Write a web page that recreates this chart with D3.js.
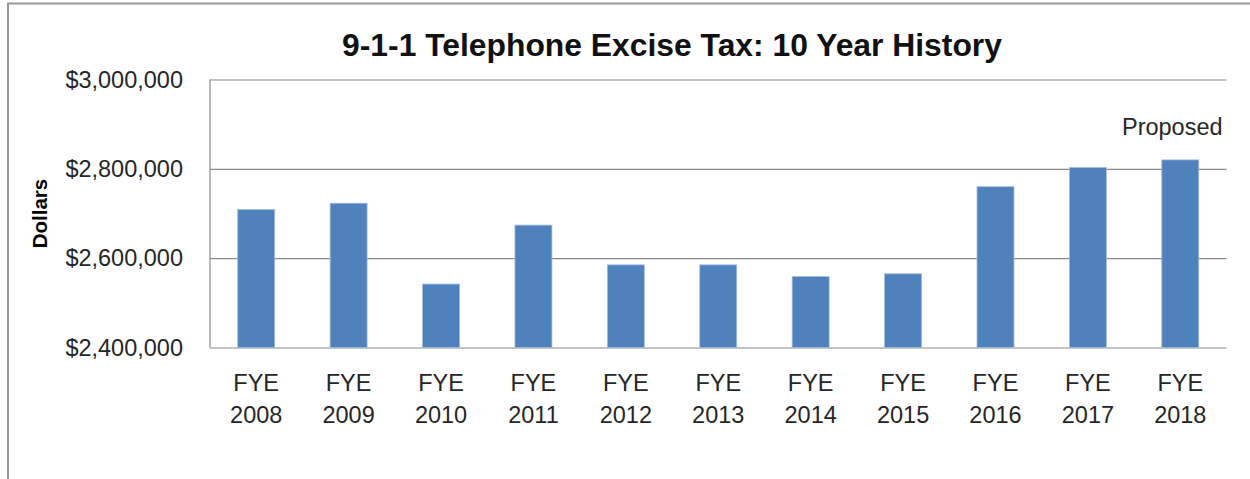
<!DOCTYPE html>
<html>
<head>
<meta charset="utf-8">
<script src="https://cdn.jsdelivr.net/npm/d3@7"></script>
<style>
  html, body { margin: 0; padding: 0; background: #fff; }
  svg { display: block; }
  text { font-family: "Liberation Sans", Arial, sans-serif; }
</style>
</head>
<body>
<svg id="chart" width="1250" height="479"></svg>
<script>
// Fiscal years shown on the category axis
const years = ["2008", "2009", "2010", "2011", "2012", "2013", "2014", "2015", "2016", "2017", "2018"];
// Annual 9-1-1 telephone excise tax receipts, in dollars
const receipts = [2709000, 2723000, 2542000, 2674000, 2585000, 2585000, 2559000, 2565000, 2760000, 2803000, 2820000];
// Value-axis ticks
const yTicks = [2400000, 2600000, 2800000, 3000000];

const titleText = "9-1-1 Telephone Excise Tax: 10 Year History";
const yAxisTitle = "Dollars";
const noteText = "Proposed";

const W = 1250, H = 479;
const plot = { left: 210, right: 1226.5, top: 79.5, bottom: 347.5 };
const textColor = "#262626";
const gridColor = "#8a8a8a";
const barColor = "#4f81bd";

const svg = d3.select("#chart");

// Outer chart frame (left and top edges)
svg.append("path")
  .attr("d", `M8,${H} L8,3.5 L${W},3.5`)
  .attr("fill", "none")
  .attr("stroke", "#979797")
  .attr("stroke-width", 2);

const x = d3.scaleBand()
  .domain(years)
  .range([plot.left, plot.right])
  .paddingInner(0.6)
  .paddingOuter(0.3);

const y = d3.scaleLinear()
  .domain([yTicks[0], yTicks[yTicks.length - 1]])
  .range([plot.bottom, plot.top]);

// Horizontal gridlines
const grid = svg.append("g")
  .attr("transform", `translate(${plot.left},0)`)
  .call(d3.axisLeft(y).tickValues(yTicks).tickSize(-(plot.right - plot.left)).tickFormat(""));
grid.select(".domain").remove();
grid.selectAll(".tick line").attr("stroke", gridColor).attr("stroke-width", 1.2);

// Vertical value-axis line
svg.append("line")
  .attr("x1", plot.left).attr("x2", plot.left)
  .attr("y1", plot.top).attr("y2", plot.bottom)
  .attr("stroke", gridColor).attr("stroke-width", 1.2);

// Value-axis labels
const yAxis = svg.append("g")
  .attr("transform", `translate(${plot.left},0)`)
  .call(d3.axisLeft(y).tickValues(yTicks).tickSize(0).tickPadding(27).tickFormat(d3.format("$,")));
yAxis.select(".domain").remove();
yAxis.selectAll("text")
  .attr("font-size", 23.5)
  .attr("fill", textColor)
  .attr("font-family", "'Liberation Sans', Arial, sans-serif");

// Bars
svg.append("g")
  .selectAll("rect")
  .data(years.map((yr, i) => ({ yr, v: receipts[i] })))
  .join("rect")
  .attr("x", d => x(d.yr))
  .attr("y", d => y(d.v))
  .attr("width", x.bandwidth())
  .attr("height", d => y(yTicks[0]) - y(d.v))
  .attr("fill", barColor)
  .attr("stroke", "#a3bbdd")
  .attr("stroke-width", 0.8);

// Category-axis labels on two lines
const xAxis = svg.append("g")
  .attr("transform", `translate(0,${plot.bottom})`)
  .call(d3.axisBottom(x).tickSize(0).tickFormat(""));
xAxis.select(".domain").remove();
xAxis.selectAll(".tick").each(function(d) {
  const t = d3.select(this).append("text")
    .attr("text-anchor", "middle")
    .attr("font-size", 23.5)
    .attr("fill", textColor)
    .attr("font-family", "'Liberation Sans', Arial, sans-serif");
  t.append("tspan").attr("x", 0).attr("y", 43).text("FYE");
  t.append("tspan").attr("x", 0).attr("y", 75).text(d);
});

// Note above the final (proposed) year
svg.append("text")
  .attr("x", x(years[years.length - 1]) + x.bandwidth() / 2 - 8)
  .attr("y", 135)
  .attr("text-anchor", "middle")
  .attr("font-size", 23.5)
  .attr("fill", textColor)
  .text(noteText);

// Value-axis title
svg.append("text")
  .attr("transform", `translate(47,${(plot.top + plot.bottom) / 2}) rotate(-90)`)
  .attr("text-anchor", "middle")
  .attr("font-size", 20.5)
  .attr("font-weight", "bold")
  .attr("fill", "#000")
  .text(yAxisTitle);

// Chart title, sized to span its slot
const title = svg.append("text")
  .attr("x", 672)
  .attr("y", 56)
  .attr("text-anchor", "middle")
  .attr("font-weight", "bold")
  .attr("fill", "#111")
  .attr("font-size", 100)
  .text(titleText);
const natural = title.node().getComputedTextLength();
title.attr("font-size", 100 * 660 / natural);
</script>
</body>
</html>
